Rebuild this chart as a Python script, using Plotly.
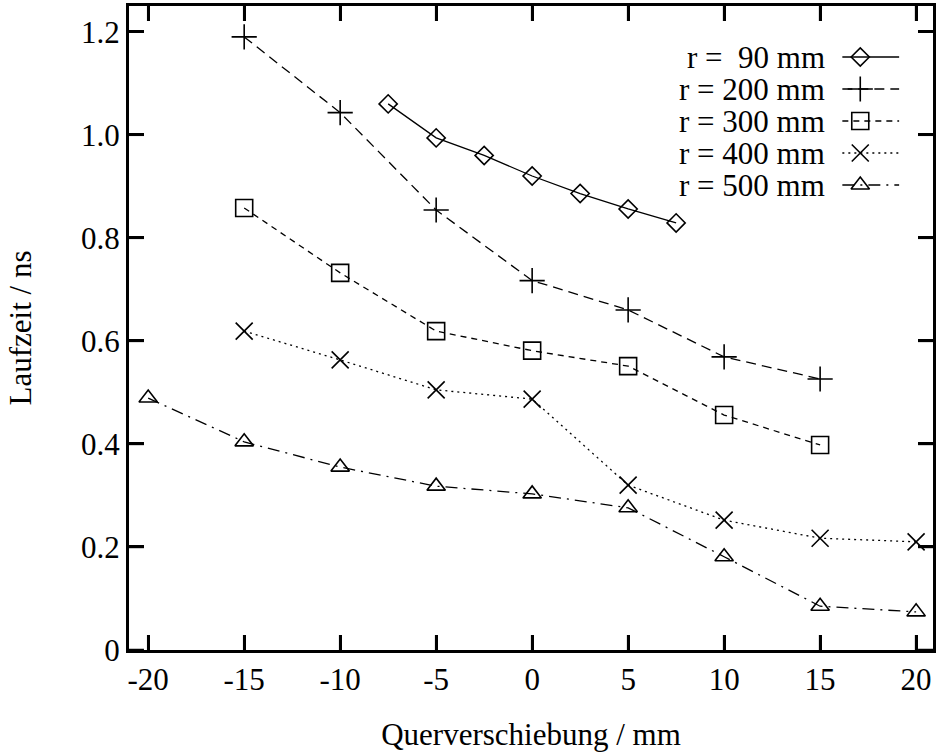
import plotly.graph_objects as go

# ---- data ----
x90 = [-7.5, -5, -2.5, 0, 2.5, 5, 7.5]
y90 = [1.060, 0.994, 0.960, 0.920, 0.886, 0.856, 0.829]

x200 = [-15, -10, -5, 0, 5, 10, 15]
y200 = [1.190, 1.043, 0.854, 0.717, 0.660, 0.569, 0.526]

x300 = [-15, -10, -5, 0, 5, 10, 15]
y300 = [0.858, 0.732, 0.619, 0.581, 0.551, 0.456, 0.398]

x400 = [-15, -10, -5, 0, 5, 10, 15, 20]
y400 = [0.619, 0.563, 0.505, 0.487, 0.320, 0.252, 0.217, 0.210]

x500 = [-20, -15, -10, -5, 0, 5, 10, 15, 20]
y500 = [0.489, 0.404, 0.355, 0.318, 0.303, 0.276, 0.181, 0.085, 0.074]

labels = ["r =  90 mm", "r = 200 mm", "r = 300 mm", "r = 400 mm", "r = 500 mm"]

x_tickvals = [-20, -15, -10, -5, 0, 5, 10, 15, 20]
x_ticktext = ["-20", "-15", "-10", "-5", "0", "5", "10", "15", "20"]
y_tickvals = [0, 0.2, 0.4, 0.6, 0.8, 1.0, 1.2]
y_ticktext = ["0", "0.2", "0.4", "0.6", "0.8", "1.0", "1.2"]

# ---- styles / layout constants ----
FONT = "Liberation Serif"
FS = 31
XR = [-21, 20.88]
YR = [0, 1.25]
PLOT_W, PLOT_H = 807, 644  # plot area size in pixels
TICK_LEN, TICK_W = 15, 2.5

styles = [
    dict(symbol="diamond-open", size=14, dash="solid"),
    dict(symbol="cross-thin-open", size=18, dash="10px,6px"),
    dict(symbol="square-open", size=17, dash="6px,5px"),
    dict(symbol="x-thin-open", size=17, dash="2px,4px"),
    dict(symbol="triangle-up-open", size=16, dash="12px,6px,2px,6px"),
]
series = [(x90, y90), (x200, y200), (x300, y300), (x400, y400), (x500, y500)]

fig = go.Figure()
for (xs, ys), st, lab in zip(series, styles, labels):
    fig.add_trace(go.Scatter(
        x=xs, y=ys, mode="lines+markers", name=lab,
        line=dict(color="black", width=1.3, dash=st["dash"]),
        marker=dict(symbol=st["symbol"], size=st["size"], color="black",
                    line=dict(color="black", width=1.6)),
        cliponaxis=False,
    ))


# ---- custom gnuplot-style key (text on the left, sample on the right) ----
# key placement given as pixel offsets from the plot area's top-left corner,
# converted to axis units
def px2x(px):
    return XR[0] + px / PLOT_W * (XR[1] - XR[0])


def px2y(py):
    return YR[1] - py / PLOT_H * (YR[1] - YR[0])


key_rows = [51, 83, 115, 147, 179]
key_line = [716, 773]
key_mark = 734
key_text_right = 701
for st, lab, ry in zip(styles, labels, key_rows):
    fig.add_trace(go.Scatter(
        x=[px2x(p) for p in key_line], y=[px2y(ry)] * 2, mode="lines",
        line=dict(color="black", width=1.3, dash=st["dash"]),
        hoverinfo="skip", showlegend=False,
    ))
    fig.add_trace(go.Scatter(
        x=[px2x(key_mark)], y=[px2y(ry)], mode="markers",
        marker=dict(symbol=st["symbol"], size=st["size"], color="black",
                    line=dict(color="black", width=1.6)),
        hoverinfo="skip", showlegend=False,
    ))
    fig.add_annotation(
        x=px2x(key_text_right), y=px2y(ry), xref="x", yref="y",
        text=lab.replace("  ", " \u00a0"), showarrow=False,
        xanchor="right", yanchor="middle",
        font=dict(family=FONT, size=FS, color="black"),
    )

# ---- inward tick marks on all four sides (gnuplot border style) ----
tick_line = dict(color="black", width=TICK_W)
hx = TICK_LEN / PLOT_H
hy = TICK_LEN / PLOT_W
for v in x_tickvals:
    fig.add_shape(type="line", xref="x", yref="paper", x0=v, x1=v, y0=0, y1=hx,
                  line=tick_line, layer="above")
    fig.add_shape(type="line", xref="x", yref="paper", x0=v, x1=v, y0=1, y1=1 - hx,
                  line=tick_line, layer="above")
for v in y_tickvals:
    fig.add_shape(type="line", xref="paper", yref="y", x0=0, x1=hy, y0=v, y1=v,
                  line=tick_line, layer="above")
    fig.add_shape(type="line", xref="paper", yref="y", x0=1, x1=1 - hy, y0=v, y1=v,
                  line=tick_line, layer="above")

axis_common = dict(
    ticks="inside", ticklen=TICK_LEN, tickwidth=TICK_W, tickcolor="black",
    showline=True, linewidth=3, linecolor="black", mirror="ticks",
    showgrid=False, zeroline=False, ticksuffix="\u2009",
    tickfont=dict(family=FONT, size=FS, color="black"),
)

fig.update_layout(
    width=936, height=752,
    margin=dict(l=129, r=0, t=6, b=102),
    paper_bgcolor="white", plot_bgcolor="white",
    font=dict(family=FONT, size=FS, color="black"),
    showlegend=False,
    xaxis=dict(
        range=XR, tickmode="array", tickvals=x_tickvals, ticktext=x_ticktext,
        title=dict(text="Querverschiebung / mm", standoff=28,
                   font=dict(family=FONT, size=FS, color="black")),
        **axis_common,
    ),
    yaxis=dict(
        range=YR, tickmode="array", tickvals=y_tickvals, ticktext=y_ticktext,
        title=dict(text="Laufzeit / ns", standoff=41,
                   font=dict(family=FONT, size=FS, color="black")),
        **axis_common,
    ),
)

fig.write_html("out.html")
